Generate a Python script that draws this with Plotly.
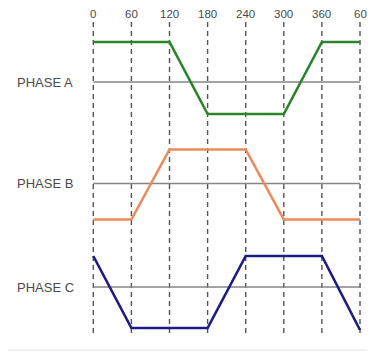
import plotly.graph_objects as go

# ---- data ----
angles = [0, 60, 120, 180, 240, 300, 360, 420]
tick_labels = ["0", "60", "120", "180", "240", "300", "360", "60"]
phase_names = ["PHASE A", "PHASE B", "PHASE C"]
phase_a = [40, 40, 40, -32, -32, -32, 40, 40]
phase_b = [-36, -36, 34, 34, 34, -36, -36, -36]
phase_c = [31, -41, -41, -41, 31, 31, 31, -43]

# ---- layout constants (page pixels; page body has an 8px margin) ----
OFF = 8
W, H = 375, 358
FW, FH = W - OFF, H - OFF
x0_px, x1_px = 93.3, 360.0
scale = (x1_px - x0_px) / (angles[-1] - angles[0])
xr = [angles[0] - (x0_px - OFF) / scale, angles[-1] + (W - x1_px) / scale]
baselines = [82, 183.5, 287]
colors = ["#2a852a", "#ec8a5c", "#1c1c82"]
series = [phase_a, phase_b, phase_c]
FONT = "Liberation Sans, Arial, sans-serif"

fig = go.Figure()

shapes = []
for a in angles:
    shapes.append(dict(type="line", xref="x", yref="y", x0=a, x1=a, y0=22, y1=337,
                       line=dict(color="#555555", width=1.4, dash="5px,4px"), layer="below"))
for b in baselines:
    shapes.append(dict(type="line", xref="x", yref="y", x0=angles[0], x1=angles[-1], y0=b, y1=b,
                       line=dict(color="#858585", width=1.5), layer="below"))
shapes.append(dict(type="line", xref="x", yref="y", x0=angles[0] - (x0_px - 8) / scale, x1=xr[1],
                   y0=350, y1=350, line=dict(color="#e4e4e4", width=1.2), layer="below"))

for name, vals, b, c in zip(phase_names, series, baselines, colors):
    fig.add_trace(go.Scatter(x=angles, y=[b - v for v in vals], mode="lines",
                             line=dict(color=c, width=2.6), name=name, showlegend=False,
                             hoverinfo="skip"))

annotations = []
for a, t in zip(angles, tick_labels):
    annotations.append(dict(x=a, y=14, xref="x", yref="y", text=t, showarrow=False,
                            font=dict(family=FONT, size=11.5, color="#4a4a4a")))
for name, b in zip(phase_names, baselines):
    annotations.append(dict(x=angles[0] - (x0_px - 45) / scale, y=b, xref="x", yref="y", text=name,
                            showarrow=False, xanchor="center",
                            font=dict(family=FONT, size=13, color="#4a4a4a")))

fig.update_layout(
    width=FW, height=FH,
    margin=dict(l=0, r=0, t=0, b=0),
    paper_bgcolor="white", plot_bgcolor="white",
    xaxis=dict(range=xr, visible=False, fixedrange=True),
    yaxis=dict(range=[H, OFF], visible=False, fixedrange=True),
    shapes=shapes, annotations=annotations,
)

fig.write_html("out.html")
